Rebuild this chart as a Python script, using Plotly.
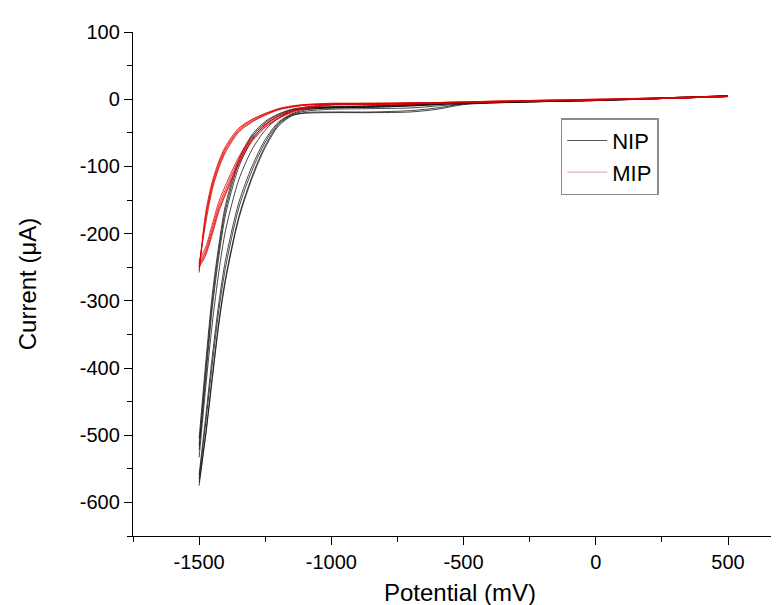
import plotly.graph_objects as go

# potential grid of each sweep branch (mV)
potential = [500, 250, 0, -250, -500, -600, -700, -850, -1000, -1100, -1150,
             -1200, -1250, -1300, -1350, -1400, -1425, -1450, -1475, -1500]

# current (uA), one list per sweep branch
nip_currents = [
    [4, 1, -1, -3, -5, -6, -8, -10, -11, -12, -15, -22, -33, -53, -90, -157, -216, -290, -392, -505],
    [5, 1, -1, -3, -5, -7, -8, -10, -12, -13, -16, -23, -35, -56, -95, -164, -224, -300, -404, -515],
    [4, 1, -2, -3, -6, -7, -9, -11, -12, -14, -17, -25, -38, -60, -101, -172, -233, -310, -415, -522],
    [5, 1, -2, -4, -6, -8, -10, -12, -13, -15, -18, -28, -46, -75, -120, -195, -256, -333, -429, -533],
    [5, 2, -1, -3, -6, -8, -10, -12, -13, -16, -22, -34, -60, -100, -154, -239, -302, -382, -472, -559],
    [5, 2, -1, -4, -7, -10, -13, -14, -15, -18, -23, -36, -64, -106, -162, -250, -313, -394, -482, -565],
    [5, 2, -2, -4, -8, -15, -19, -20, -20, -21, -24, -38, -69, -115, -175, -266, -330, -412, -498, -575],
    [4, 1, -2, -4, -7, -13, -17, -19, -19, -20, -25, -40, -72, -118, -178, -270, -334, -416, -500, -570],
]

mip_currents = [
    [4, 1, -1, -2, -4, -5, -5, -6, -6, -8, -10, -14, -21, -30, -43, -70, -92, -122, -168, -255],
    [4, 1, -1, -2, -4, -5, -6, -6, -7, -8, -11, -15, -22, -31, -45, -73, -95, -126, -174, -258],
    [5, 2, 0, -2, -4, -5, -6, -7, -7, -9, -11, -15, -23, -33, -47, -76, -99, -130, -178, -250],
    [4, 1, -1, -3, -5, -5, -6, -7, -7, -9, -12, -16, -24, -34, -49, -79, -102, -134, -184, -246],
    [4, 1, -1, -3, -5, -6, -6, -7, -8, -12, -17, -25, -37, -55, -86, -128, -152, -186, -220, -240],
    [4, 1, -1, -3, -5, -6, -7, -7, -8, -12, -18, -26, -39, -58, -90, -134, -158, -192, -225, -245],
    [5, 2, 0, -2, -5, -6, -7, -8, -8, -13, -19, -28, -41, -61, -94, -139, -163, -197, -229, -248],
    [4, 1, -1, -3, -5, -6, -7, -8, -9, -14, -20, -29, -42, -63, -97, -142, -167, -201, -232, -250],
]

x_ticks = [-1500, -1000, -500, 0, 500]
x_labels = ["-1500", "-1000", "-500", "0", "500"]
y_ticks = [-600, -500, -400, -300, -200, -100, 0, 100]
y_labels = ["-600", "-500", "-400", "-300", "-200", "-100", "0", "100"]

series_names = ["NIP", "MIP"]
line_colors = ["rgba(0,0,0,0.8)", "rgba(222,0,0,0.9)"]
legend_colors = ["#555555", "#e6b3b3"]


def join_branches(branches):
    xs, ys = [], []
    for b in branches:
        xs += potential + [None]
        ys += b + [None]
    return xs, ys


fig = go.Figure()
for name, color, lcolor, data in zip(series_names, line_colors, legend_colors,
                                      [nip_currents, mip_currents]):
    xs, ys = join_branches(data)
    fig.add_trace(go.Scatter(
        x=xs, y=ys, name=name, mode="lines", legendgroup=name, showlegend=False,
        line=dict(color=color, width=0.9, shape="spline", smoothing=0.8),
        connectgaps=False,
    ))
    # legend-only entry (the legend swatches are lighter than the curves)
    fig.add_trace(go.Scatter(
        x=[None], y=[None], name=name, mode="lines", legendgroup=name,
        line=dict(color=lcolor, width=1.2),
    ))

font_family = "Liberation Sans, Arial, sans-serif"

fig.update_layout(
    width=779, height=605,
    margin=dict(l=125, r=0, t=24, b=77),
    plot_bgcolor="white", paper_bgcolor="white",
    font=dict(family=font_family, size=20, color="black"),
    legend=dict(
        x=0.654, y=0.829, xanchor="left", yanchor="top",
        bordercolor="#8a8a8a", borderwidth=1.5, bgcolor="white",
        font=dict(family=font_family, size=22, color="black"),
        itemwidth=40, tracegroupgap=0,
    ),
)

fig.update_xaxes(
    range=[-1750, 723], showgrid=False, zeroline=False,
    showline=True, linecolor="black", linewidth=1.3,
    ticks="outside", ticklen=8, tickwidth=1.3, tickcolor="black",
    tickvals=x_ticks, ticktext=x_labels,
    minor=dict(ticks="outside", ticklen=5, tickwidth=1.3, tickcolor="black",
               tickvals=[-1750, -1250, -750, -250, 250]),
    title=dict(text="Potential (mV)", font=dict(size=24), standoff=12),
)

fig.update_yaxes(
    range=[-650, 100], showgrid=False, zeroline=False,
    showline=True, linecolor="black", linewidth=1.3,
    ticks="outside", ticklen=8, tickwidth=1.3, tickcolor="black",
    tickvals=y_ticks, ticktext=y_labels,
    minor=dict(ticks="outside", ticklen=5, tickwidth=1.3, tickcolor="black",
               tickvals=[-650, -550, -450, -350, -250, -150, -50, 50]),
    title=dict(text="Current (μA)", font=dict(size=24), standoff=36),
)

fig.write_html("out.html")
